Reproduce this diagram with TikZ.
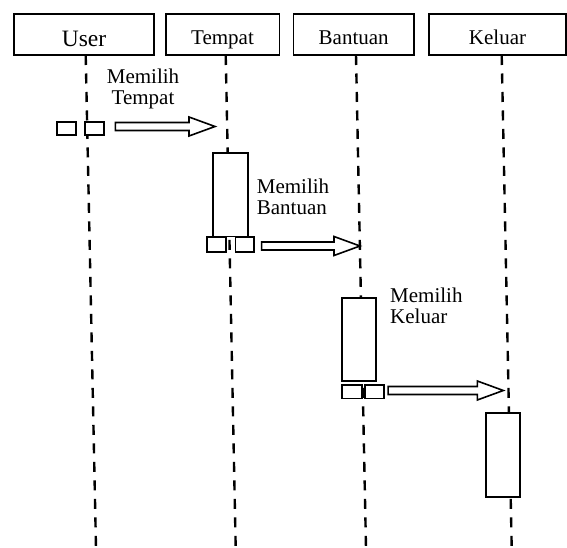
\documentclass[tikz,border=0pt]{standalone}
\usepackage{fontspec}
\setmainfont{Liberation Serif}
\usetikzlibrary{calc}

\tikzset{
  header/.style={draw, line width=1.6pt, minimum height=41pt, inner sep=0pt,
    font=\fontsize{21}{21}\selectfont, text height=19.6pt, text depth=0pt},
  lifeline/.style={line width=2.4pt, dash pattern=on 10pt off 8.5pt},
  activation/.style={draw, fill=white, line width=1.8pt, minimum width=34.5pt,
    minimum height=83pt, inner sep=0pt},
  port/.style={draw, fill=white, line width=1.7pt, minimum width=19pt,
    minimum height=14pt, inner sep=0pt},
  msglabel/.style={font=\fontsize{21}{21}\selectfont, inner sep=0pt},
  hollowarrow/.style={draw, line width=1.6pt, fill=white, line join=miter}
}

% hollow block arrow from the x of #1 to the tip #2
\newcommand\hollowmsg[2]{%
  \draw[hollowarrow] let \p1=(#1), \p2=(#2) in
    (\x1,\y2+4pt) -- (\x2-26pt,\y2+4pt) -- (\x2-26pt,\y2+9.5pt) -- (\x2,\y2)
    -- (\x2-26pt,\y2-9.5pt) -- (\x2-26pt,\y2-4pt) -- (\x1,\y2-4pt) -- cycle;}

\begin{document}
\begin{tikzpicture}[x=1pt, y=-1pt]
  \useasboundingbox (0,0) rectangle (567,548);

  % object headers
  \node[header, minimum width=140pt, font=\fontsize{23.5}{23.5}\selectfont,
        text height=24.4pt] (user) at (84,34.5) {User};
  \node[header, minimum width=113.6pt] (tempat)  at (222.5,34.5) {Tempat};
  \node[header, minimum width=120.7pt] (bantuan) at (353.7,34.5) {Bantuan};
  \node[header, minimum width=137pt]   (keluar)  at (497.5,34.5) {Keluar};

  % lifeline end points
  \coordinate (uTop) at (85.7,55);  \coordinate (uBot) at (96,548);
  \coordinate (tTop) at (225.7,55); \coordinate (tBot) at (235.7,548);
  \coordinate (bTop) at (356,55);   \coordinate (bBot) at (366,548);
  \coordinate (kTop) at (501.7,55); \coordinate (kBot) at (511.7,548);

  \draw[lifeline] (uTop) -- (uBot);
  \draw[lifeline] (tTop) -- (tBot);
  \draw[lifeline] (bTop) -- (bBot);
  \draw[lifeline] (kTop) -- (kBot);

  % user ports
  \node[port, minimum width=18.4pt, minimum height=13.3pt] (uL) at (66.5,128.4) {};
  \node[port, minimum height=13.3pt] (uR) at (94.5,128.4) {};

  % Tempat activation
  \node[activation, minimum width=35pt, minimum height=83.8pt] (actT) at (230.2,194.6) {};
  \node[port, minimum width=18.4pt, minimum height=14.4pt] (tL) at (216.5,244.5) {};
  \node[port, minimum width=18.4pt, minimum height=14.4pt] (tR) at (244.8,244.5) {};

  % Bantuan activation
  \node[activation, minimum width=34pt, minimum height=82.4pt] (actB) at (358.7,339.5) {};
  \node[port, minimum width=20pt, minimum height=13.3pt] (bL) at (351.7,391.7) {};
  \node[port, minimum height=13.3pt] (bR) at (374.5,391.7) {};

  % Keluar activation
  \node[activation, minimum width=34.3pt, minimum height=83.4pt] (actK) at (502.9,455) {};

  % messages
  \coordinate (m1s) at ([xshift=10.5pt]uR.east);
  \coordinate (m1t) at (215,126.5);
  \hollowmsg{m1s}{m1t}
  \coordinate (m2s) at ([xshift=6.8pt]tR.east);
  \coordinate (m2t) at (360,246);
  \hollowmsg{m2s}{m2t}
  \coordinate (m3s) at ([xshift=3.3pt]bR.east);
  \coordinate (m3t) at (503.3,390.5);
  \hollowmsg{m3s}{m3t}

  % message labels
  \node[msglabel, anchor=north, align=center] (l1) at (143,69) {Memilih\\Tempat};
  \node[msglabel, anchor=north west, align=left] (l2) at (256.7,179) {Memilih\\Bantuan};
  \node[msglabel, anchor=north west, align=left] (l3) at (390,288) {Memilih\\Keluar};
\end{tikzpicture}
\end{document}
